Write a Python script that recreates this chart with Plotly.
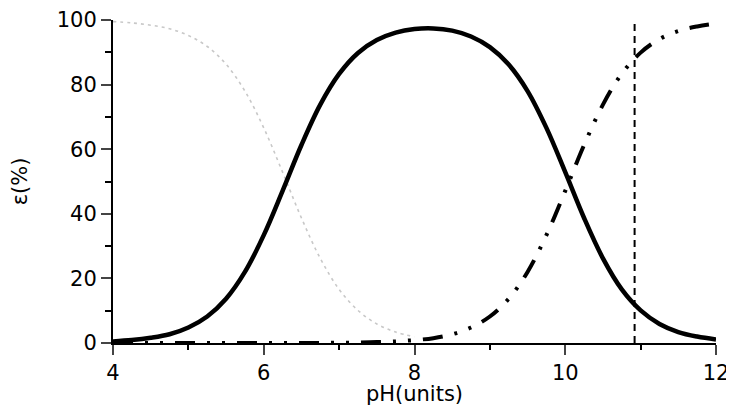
import plotly.graph_objects as go

# pH values (x categories)
ph = [4.0, 4.25, 4.5, 4.75, 5.0, 5.25, 5.5, 5.75, 6.0, 6.25, 6.5, 6.75, 7.0, 7.25,
      7.5, 7.75, 8.0, 8.25, 8.5, 8.75, 9.0, 9.25, 9.5, 9.75, 10.0, 10.25, 10.5,
      10.75, 11.0, 11.25, 11.5, 11.75, 12.0]

# dotted grey curve (read up to pH 8)
ph_dotted = [4.0, 4.25, 4.5, 4.75, 5.0, 5.25, 5.5, 5.75, 6.0, 6.25, 6.5, 6.75,
             7.0, 7.25, 7.5, 7.75, 8.0]
dotted_vals = [99.5, 99.1, 98.4, 97.3, 95.2, 91.8, 86.3, 78.0, 66.6, 52.9, 38.7,
               26.2, 16.6, 10.1, 5.9, 3.4, 1.9]

# solid black curve
solid_vals = [0.5, 0.9, 1.6, 2.7, 4.8, 8.2, 13.7, 22.0, 33.4, 47.1, 61.3, 73.8,
              83.3, 89.8, 93.8, 96.1, 97.2, 97.4, 96.7, 94.9, 91.6, 86.2, 78.0,
              66.6, 52.9, 38.7, 26.2, 16.6, 10.1, 5.9, 3.4, 2.0, 1.1]

# dash-dot-dot curve
dashdot_vals = [0, 0, 0, 0, 0, 0, 0, 0, 0, 0, 0, 0, 0.1, 0.1, 0.3, 0.5, 0.9, 1.5,
                2.7, 4.8, 8.2, 13.7, 22.0, 33.4, 47.1, 61.3, 73.8, 83.4, 89.9,
                94.1, 96.6, 98.0, 98.9]

# vertical dashed marker
vline_ph = 10.92
vline_y = [0, 100]

x_ticks = [4, 6, 8, 10, 12]
y_ticks = [0, 20, 40, 60, 80, 100]

FONT = "DejaVu Sans"

fig = go.Figure()
fig.add_trace(go.Scatter(x=ph_dotted, y=dotted_vals, mode="lines",
                         line=dict(color="#c8c8c8", width=1.6, dash="3px,4px", shape="spline")))
fig.add_trace(go.Scatter(x=ph, y=dashdot_vals, mode="lines",
                         line=dict(color="black", width=4, shape="spline",
                                   dash="20px,12px,3px,12px,3px,12px")))
fig.add_trace(go.Scatter(x=ph, y=solid_vals, mode="lines",
                         line=dict(color="black", width=4.5, shape="spline")))
fig.add_trace(go.Scatter(x=[vline_ph, vline_ph], y=vline_y, mode="lines",
                         line=dict(color="black", width=2, dash="7px,5px")))

# page body has an 8px margin, so the figure is sized to fit the 734x406 window
fig.update_layout(
    width=726, height=398,
    margin=dict(l=105, r=18, t=12, b=63),
    paper_bgcolor="white", plot_bgcolor="white",
    showlegend=False,
    font=dict(family=FONT, size=21, color="black"),
)
fig.update_xaxes(
    range=[4, 12], tickvals=x_ticks, ticks="outside", ticklen=10, tickwidth=2,
    showline=True, linecolor="black", linewidth=2, showgrid=False, zeroline=False,
    automargin=False,
    minor=dict(dtick=1, ticks="outside", ticklen=5, tickwidth=1.5, tickcolor="black"),
    title=dict(text="pH(units)", standoff=2, font=dict(size=21)),
    tickfont=dict(size=21),
)
fig.update_yaxes(
    range=[0, 100], tickvals=y_ticks, ticks="outside", ticklen=10, tickwidth=2,
    showline=True, linecolor="black", linewidth=2, showgrid=False, zeroline=False,
    automargin=False,
    minor=dict(dtick=10, ticks="outside", ticklen=6, tickwidth=1.5, tickcolor="black"),
    title=dict(text="ε(%)", standoff=24, font=dict(size=21)),
    tickfont=dict(size=21),
)

fig.write_html("out.html")
